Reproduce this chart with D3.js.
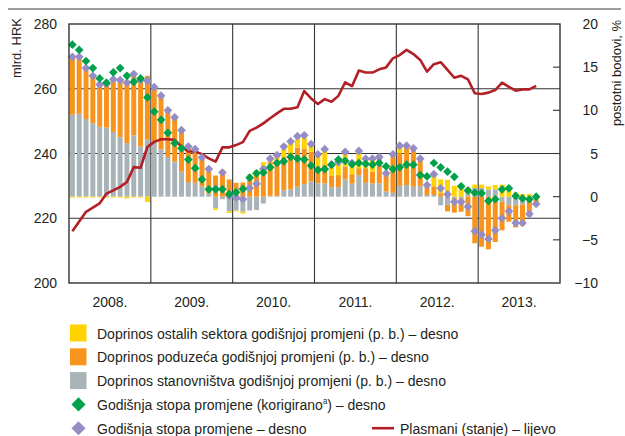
<!DOCTYPE html>
<html>
<head>
<meta charset="utf-8">
<script src="https://cdn.jsdelivr.net/npm/d3@7"></script>
<style>
  html, body { margin: 0; padding: 0; background: #fff; }
  svg { display: block; }
  text { font-family: "Liberation Sans", Arial, sans-serif; fill: #231f20; }
</style>
</head>
<body>
<svg id="chart" width="625" height="436"></svg>
<script>
// Monthly observations, January 2008 – September 2013
const years = ["2008.", "2009.", "2010.", "2011.", "2012.", "2013."];
const leftTicks = [200, 220, 240, 260, 280];
const rightTicks = [-10, -5, 0, 5, 10, 15, 20];

// Contribution of households to the annual change (p.p.)
const households = [
  9.5, 9.6, 9.0, 8.5, 8.1, 8.0, 7.5, 6.9, 6.2, 7.1, 5.8, 6.6,
  6.4, 5.5, 4.6, 4.05, 2.9, 1.7, 1.6, 1.2, 0.4, -1.35, -0.3, -1.7,
  -1.6, -1.75, -1.6, -1.55, -0.8, 0.1, 0.1, 0.75, 0.85, 1.15, 1.45, 1.75,
  1.55, 1.55, 1.1, 1.1, 2.0, 1.5, 2.5, 1.6, 1.55, 1.55, 0.6, 0.45,
  1.25, 1.35, 1.15, 1.25, 0.2, 0.2, -1.0, -0.95, -0.2, -0.2, 0.3, 1.0,
  1.0, 0.85, 0.85, -0.6, -1.0, -1.0, -0.9, -0.5, -0.3
];
// Contribution of enterprises (p.p.)
const enterprises = [
  6.8, 6.7, 6.0, 5.6, 5.0, 5.15, 6.2, 6.7, 7.2, 7.2, 7.8, 7.4,
  6.3, 6.2, 5.4, 5.15, 4.8, 4.1, 3.9, 3.35, 2.5, 2.45, 2.8, 2.0,
  1.6, 1.65, 2.3, 2.75, 3.4, 3.9, 4.15, 3.85, 4.15, 4.55, 4.15, 3.45,
  1.95, 2.15, 1.3, 1.4, 1.5, 1.1, 0.8, 1.7, 1.35, 2.85, 1.9, 4.15,
  3.75, 4.45, 4.25, 3.15, 1.15, 1.0, 0.4, -0.75, -1.65, -1.55, -2.26, -5.4,
  -5.8, -6.1, -5.25, -3.3, -1.9, -2.55, -2.45, -1.8, -0.75
];
// Contribution of other sectors (p.p.)
const otherSectors = [
  -0.1, -0.1, -0.1, -0.1, -0.1, -0.1, -0.1, -0.1, -0.2, -0.1, -0.1, -0.6,
  0, 0, 0, 0, 0, 0, 0, 0, 0.3, -0.2, 0.3, -0.2,
  -0.1, -0.2, 0.3, 0.3, 0.6, 0.4, 0.55, 1.2, 1.4, 1.3, 1.5, 0.9,
  1.4, 1.8, 1.3, 1.5, 1.7, 1.3, 2.0, 1.1, 1.5, 0.2, 0.2, 0.3,
  0.9, 0.1, 0.2, 0.0, 0.0, 1.4, 1.6, 1.95, 1.25, 1.15, 0.8, 0.4,
  0.4, 0.35, 0.5, 1.4, 1.2, 0.5, 0.3, 0.3, 0.2
];
// Annual rate of change, adjusted (%)
const rateAdjusted = [
  17.6, 17.0, 15.7, 14.9, 13.7, 13.2, 14.4, 14.9, 14.0, 13.3, 13.7, 11.5,
  9.85, 8.9, 7.4, 6.2, 5.6, 4.3, 3.3, 2.0, 0.85, 0.85, 0.85, 0.3,
  0.5, 0.9, 2.2, 2.7, 2.8, 3.4, 3.9, 4.1, 4.6, 4.4, 4.3, 3.6,
  3.1, 3.2, 3.7, 4.3, 4.15, 3.75, 3.9, 3.8, 3.7, 3.9, 3.5, 3.2,
  3.4, 3.7, 3.7, 2.5, 2.35, 3.9, 3.4, 2.9, 2.3, 1.2, 0.7, 0.46,
  0.4, -0.5, -0.3, 0.85, 0.97, 0.08, -0.2, -0.3, 0.0
];
// Annual rate of change (%)
const rate = [
  16.2, 16.2, 14.9, 14.0, 13.0, 13.05, 13.6, 13.5, 13.2, 14.2, 13.5, 13.4,
  12.7, 11.7, 10.0, 9.2, 7.7, 5.8, 5.5, 4.55, 3.2, 0.9, 2.8, 0.1,
  -0.1, -0.3, 1.0, 1.5, 3.2, 4.4, 4.8, 5.8, 6.4, 7.0, 7.1, 6.1,
  4.9, 5.5, 3.7, 4.0, 5.2, 3.9, 5.3, 4.4, 4.4, 4.6, 2.7, 4.9,
  5.9, 5.9, 5.6, 4.4, 1.35, 2.6, 0.97, 0.27, -0.6, -0.6, -1.16, -4.0,
  -4.4, -4.9, -3.9, -2.5, -1.7, -3.05, -3.05, -2.0, -0.85
];
// Loans outstanding, billion HRK (left axis)
const loans = [
  216.0, 219.0, 222.0, 223.3, 224.6, 227.6, 228.6, 229.7, 231.2, 235.8, 235.6, 242.0,
  243.6, 244.4, 244.4, 244.2, 242.1, 240.6, 240.6, 239.8, 238.5, 237.5, 241.9, 241.9,
  242.6, 243.5, 247.0, 248.0, 249.3, 250.9, 252.4, 253.8, 253.8, 254.3, 259.3, 257.0,
  255.3, 256.8, 256.0, 257.8, 262.0, 260.8, 265.6, 265.0, 265.0, 266.0, 266.6, 269.4,
  270.4, 272.0, 270.7, 268.9, 265.3, 267.6, 268.2, 265.8, 263.4, 264.0, 262.9, 258.6,
  258.4, 258.8, 259.6, 261.9, 260.6, 259.4, 259.8, 259.8, 260.9
];

const legendItems = [
  { kind: "rect", color: "#ffd200", label: "Doprinos ostalih sektora godišnjoj promjeni (p. b.) – desno" },
  { kind: "rect", color: "#f7941d", label: "Doprinos poduzeća godišnjoj promjeni (p. b.) – desno" },
  { kind: "rect", color: "#a9b4b9", label: "Doprinos stanovništva godišnjoj promjeni (p. b.) – desno" },
  { kind: "diamond", color: "#00a14b", label: "Godišnja stopa promjene (korigirano", sup: "a", tail: ") – desno" },
  { kind: "diamond", color: "#978dc6", label: "Godišnja stopa promjene – desno" }
];

const colors = { households: "#a9b4b9", enterprises: "#f7941d", otherSectors: "#ffd200" };

const svg = d3.select("#chart");
const plot = { left: 69, right: 560, top: 24, bottom: 283 };

const nMonths = years.length * 12;
const x = d3.scaleBand().domain(d3.range(nMonths)).range([plot.left, plot.right]).paddingInner(0.27).paddingOuter(0.13);
const xYear = d3.scaleBand().domain(years).range([plot.left, plot.right]);
const yL = d3.scaleLinear().domain([200, 280]).range([plot.bottom, plot.top]);
const yR = d3.scaleLinear().domain([-10, 20]).range([plot.bottom, plot.top]);

// Top rule
svg.append("line").attr("x1", 8).attr("x2", 621).attr("y1", 9).attr("y2", 9)
  .attr("stroke", "#9d9d9d").attr("stroke-width", 2);

// Grid
const grid = svg.append("g").attr("stroke", "#333").attr("stroke-width", 1.1);
grid.selectAll("line.h").data([220, 240, 260]).join("line")
  .attr("x1", plot.left).attr("x2", plot.right)
  .attr("y1", d => yL(d)).attr("y2", d => yL(d));
grid.selectAll("line.v").data(years.slice(1)).join("line")
  .attr("y1", plot.top).attr("y2", plot.bottom)
  .attr("x1", d => xYear(d)).attr("x2", d => xYear(d));

// Stacked contribution bars
const rows = households.map((h, i) => ({ i, households: h, enterprises: enterprises[i], otherSectors: otherSectors[i] }));
const series = d3.stack().keys(["households", "enterprises", "otherSectors"]).offset(d3.stackOffsetDiverging)(rows);
svg.append("g").selectAll("g").data(series).join("g")
  .attr("fill", s => colors[s.key])
  .selectAll("rect").data(s => s).join("rect")
  .attr("x", d => x(d.data.i))
  .attr("width", x.bandwidth())
  .attr("y", d => yR(Math.max(d[0], d[1])))
  .attr("height", d => Math.abs(yR(d[0]) - yR(d[1])));

// Loans line (left axis)
const line = d3.line().x((d, i) => x(i) + x.bandwidth() / 2).y(d => yL(d));
svg.append("path").datum(loans).attr("d", line)
  .attr("fill", "none").attr("stroke", "#b31f26").attr("stroke-width", 2.6).attr("stroke-linejoin", "round");

// Diamonds
const diamond = d3.symbol().type(d3.symbolSquare).size(38);
function drawDiamonds(values, color) {
  svg.append("g").selectAll("path").data(values).join("path")
    .attr("d", diamond)
    .attr("fill", color)
    .attr("transform", (d, i) => `translate(${x(i) + x.bandwidth() / 2},${yR(d)}) rotate(45)`);
}
drawDiamonds(rate, "#978dc6");
drawDiamonds(rateAdjusted, "#00a14b");

// Frame
svg.append("rect").attr("x", plot.left).attr("y", plot.top)
  .attr("width", plot.right - plot.left).attr("height", plot.bottom - plot.top)
  .attr("fill", "none").attr("stroke", "#333").attr("stroke-width", 1.4);

// Right-axis ticks (inside)
svg.append("g").selectAll("line").data(rightTicks.slice(1, -1)).join("line")
  .attr("x1", plot.right - 7).attr("x2", plot.right)
  .attr("y1", d => yR(d)).attr("y2", d => yR(d))
  .attr("stroke", "#333").attr("stroke-width", 1.1);

// Axis labels
svg.append("g").selectAll("text").data(leftTicks).join("text")
  .attr("x", 57).attr("y", d => yL(d) + 5).attr("text-anchor", "end")
  .attr("font-size", 14).text(d => d);
svg.append("g").selectAll("text").data(rightTicks).join("text")
  .attr("x", 598).attr("y", d => yR(d) + 5).attr("text-anchor", "end")
  .attr("font-size", 14).text(d => d < 0 ? "\u2212" + Math.abs(d) : d);
svg.append("g").selectAll("text").data(years).join("text")
  .attr("x", d => xYear(d) + xYear.bandwidth() / 2).attr("y", 307).attr("text-anchor", "middle")
  .attr("font-size", 14).text(d => d);

svg.append("text").attr("transform", "translate(21,48) rotate(-90)")
  .attr("text-anchor", "middle").attr("font-size", 13).text("mlrd. HRK");
svg.append("text").attr("transform", "translate(621,73) rotate(-90)")
  .attr("text-anchor", "middle").attr("font-size", 13).text("postotni bodovi, %");

// Legend (text is horizontally condensed to a narrow face)
const lg = svg.append("g");
const legendFont = 15.5;
const condense = 0.905;
function legendText(xPos, yPos, item) {
  const t = lg.append("text")
    .attr("transform", `translate(${xPos},${yPos}) scale(${condense},1)`)
    .attr("font-size", legendFont);
  t.append("tspan").text(item.label);
  if (item.sup) {
    t.append("tspan").attr("font-size", 8.5).attr("dy", -5.5).text(item.sup);
    t.append("tspan").attr("dy", 5.5).text(item.tail);
  }
  return t;
}
legendItems.forEach((it, k) => {
  const cy = 333 + k * 23.8;
  if (it.kind === "rect") {
    lg.append("rect").attr("x", 70).attr("y", cy - 8.5).attr("width", 16.5).attr("height", 17).attr("fill", it.color);
  } else {
    lg.append("path").attr("d", d3.symbol().type(d3.symbolSquare).size(100)())
      .attr("fill", it.color).attr("transform", `translate(78.5,${cy}) rotate(45)`);
  }
  legendText(97, cy + 5.5, it);
});
const lastY = 333 + 4 * 23.8;
lg.append("line").attr("x1", 372).attr("x2", 394).attr("y1", lastY).attr("y2", lastY)
  .attr("stroke", "#b31f26").attr("stroke-width", 2.6);
legendText(400, lastY + 5.5, { label: "Plasmani (stanje) – lijevo" });
</script>
</body>
</html>
